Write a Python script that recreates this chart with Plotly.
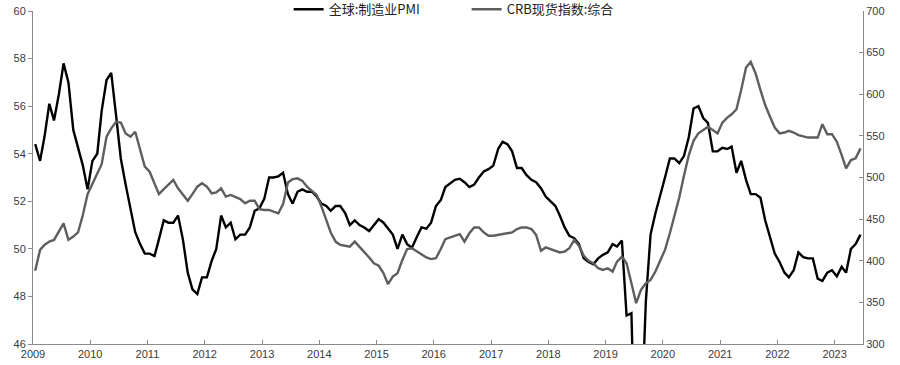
import pandas as pd
import plotly.graph_objects as go

months = pd.date_range("2009-01-01", periods=174, freq="MS") + pd.Timedelta(days=14)

pmi = [
    54.4, 53.7, 54.7, 56.1, 55.4, 56.5, 57.8, 57.0, 55.0, 54.3, 53.5, 52.5,
    53.7, 54.0, 55.8, 57.1, 57.4, 55.6, 53.8, 52.7, 51.6, 50.7, 50.2, 49.8,
    49.8, 49.7, 50.4, 51.2, 51.1, 51.1, 51.4, 50.4, 49.0, 48.3, 48.1, 48.8,
    48.8, 49.5, 50.0, 51.4, 50.9, 51.1, 50.4, 50.6, 50.6, 50.9, 51.6, 51.7,
    52.1, 53.0, 53.0, 53.05, 53.2, 52.3, 51.9, 52.4, 52.5, 52.4, 52.4, 52.2,
    51.9, 51.8, 51.6, 51.8, 51.8, 51.5, 51.0, 51.2, 51.0, 50.9, 50.75, 51.0,
    51.25, 51.1, 50.85, 50.6, 50.0, 50.6, 50.2, 50.05, 50.5, 50.9, 50.85, 51.1,
    51.8, 52.05, 52.6, 52.75, 52.9, 52.95, 52.8, 52.6, 52.7, 53.0, 53.25, 53.35,
    53.5, 54.2, 54.5, 54.4, 54.1, 53.4, 53.4, 53.1, 52.9, 52.8, 52.55, 52.2,
    52.0, 51.8, 51.4, 50.9, 50.55, 50.45, 50.2, 49.6, 49.45, 49.35, 49.6, 49.75,
    49.85, 50.2, 50.1, 50.35, 47.2, 47.3, 39.6, 42.4, 47.8, 50.6, 51.5, 52.2,
    53.0, 53.8, 53.8, 53.6, 53.9, 54.7, 55.9, 56.0, 55.5, 55.3, 54.1, 54.1,
    54.25, 54.2, 54.3, 53.2, 53.7, 52.9, 52.3, 52.3, 52.15, 51.2, 50.45, 49.8,
    49.45, 49.0, 48.8, 49.1, 49.85, 49.65, 49.6, 49.6, 48.75, 48.65, 49.0, 49.1,
    48.85, 49.25, 49.0, 50.0, 50.2, 50.6,
]

crb = [
    388, 413, 419, 423, 425, 436, 445, 425, 429, 434, 455, 480,
    493, 505, 516, 549, 559, 567, 566, 553, 549, 555, 533, 513,
    507, 493, 480, 486, 492, 497, 487, 479, 472, 480, 489, 493,
    489, 481, 482, 487, 477, 479, 477, 474, 469, 472, 472, 462,
    461, 461, 459, 457, 468, 494, 498, 499, 496, 489, 484, 479,
    465, 450, 434, 423, 419, 418, 417, 423, 417, 411, 404, 397,
    394, 385, 372, 381, 385, 401, 414, 415, 411, 407, 404, 402,
    403, 414, 426, 428, 430, 432, 423, 433, 440, 440, 434, 430,
    430, 431, 432, 433, 434, 438, 440, 440, 438, 431, 412, 416,
    414, 412, 410, 411, 415, 425, 418, 406, 400, 397, 391, 389,
    391, 387, 399, 405, 397, 373, 349, 365, 373, 377, 387, 400,
    413, 433, 453, 476, 502, 527, 544, 553, 557, 561, 557, 553,
    566, 572, 576, 582, 605, 632, 639, 625, 605, 587, 573, 560,
    553, 554, 556, 554, 551, 549, 548, 548, 548, 564, 552, 552,
    543, 527, 511, 521, 523, 535,
]

name_pmi = "全球:制造业PMI"
name_crb = "CRB现货指数:综合"

fig = go.Figure()
fig.add_trace(go.Scatter(x=months, y=pmi, name=name_pmi, mode="lines",
                         line=dict(color="#000000", width=2.4), yaxis="y"))
fig.add_trace(go.Scatter(x=months, y=crb, name=name_crb, mode="lines",
                         line=dict(color="#5e5e5e", width=2.4), yaxis="y2"))

tick_font = dict(family="Liberation Sans, Arial, sans-serif", size=11, color="#3a3a3a")
axis_col = "#8a8a8a"

fig.update_layout(
    width=900, height=365,
    margin=dict(l=33, r=37, t=11, b=21, autoexpand=False),
    paper_bgcolor="white", plot_bgcolor="white",
    showlegend=True,
    legend=dict(orientation="h", x=0.308, xanchor="left", y=1.005, yanchor="middle",
                bgcolor="rgba(0,0,0,0)",
                font=dict(family="Noto Sans CJK SC, sans-serif", size=13, color="#222"),
                entrywidth=133, entrywidthmode="pixels", itemwidth=30,
                tracegroupgap=0),
    xaxis=dict(type="date", range=["2009-01-01", "2023-07-01"],
               tickvals=pd.date_range("2009-01-01", "2023-01-01", freq="YS"),
               ticktext=[str(y) for y in range(2009, 2024)],
               ticks="inside", ticklen=4, tickcolor=axis_col,
               showline=True, linecolor=axis_col, linewidth=1,
               showgrid=False, zeroline=False, tickfont=tick_font),
    yaxis=dict(range=[46, 60], dtick=2, ticks="outside", ticklen=4, tickcolor=axis_col,
               showline=True, linecolor=axis_col, linewidth=1,
               showgrid=False, zeroline=False, tickfont=tick_font),
    yaxis2=dict(range=[300, 700], dtick=50, overlaying="y", side="right",
                ticks="inside", ticklen=4, tickcolor=axis_col,
                showline=True, linecolor=axis_col, linewidth=1,
                showgrid=False, zeroline=False, tickfont=tick_font),
)

fig.write_html("out.html")
